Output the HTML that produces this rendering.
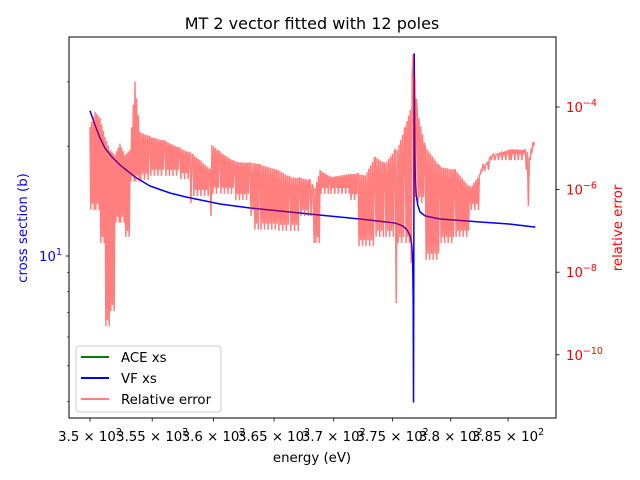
<!DOCTYPE html>
<html><head><meta charset="utf-8"><style>
html,body{margin:0;padding:0;background:#fff;}
svg{display:block;font-family:"DejaVu Sans","Liberation Sans",sans-serif;}
</style></head><body>
<svg id="chart" width="640" height="480" viewBox="0 0 640 480"></svg>
<script>
// ---- data ----
const xsEnergy = [350.00,350.40,350.80,351.20,351.76,352.40,353.61,354.82,356.44,357.75,360.53,363.01,365.49,368.77,372.22,375.22,375.89,376.24,376.51,376.64,376.72,376.76,376.79,376.85,376.90,376.94,377.02,377.15,377.35,377.80,379.09,382.57,385.20,387.40];
const xsValues = [25.0,22.85,21.05,19.76,18.67,17.76,16.46,15.55,14.88,14.51,13.88,13.54,13.28,12.95,12.63,12.31,12.08,11.78,11.34,10.72,9.63,7.58,3.98,35.8,19.52,16.67,14.69,13.80,13.20,12.87,12.63,12.39,12.23,12.0];
const errEnergy = [350.00,350.40,350.80,351.20,351.60,352.00,352.40,352.80,353.21,353.61,354.01,354.82,356.04,357.26,358.07,358.32,358.89,359.71,359.87,360.53,361.76,363.01,363.34,363.84,365.33,366.33,367.17,368.01,368.26,368.43,368.85,369.70,371.39,372.06,372.66,373.51,374.36,375.22,375.39,376.08,376.51,376.76,377.11,377.80,379.09,380.39,381.70,382.57,383.45,385.20,386.52,386.70,386.96,387.32];
const errHigh = [3.3e-5,7.6e-5,5.4e-5,1.9e-5,9.1e-6,6.9e-6,1.3e-5,6.9e-6,9.1e-6,4.1e-4,2.5e-5,1.9e-5,1.5e-5,1.0e-5,7.8e-6,6.9e-6,5.2e-6,3.0e-6,1.2e-5,8.1e-6,4.7e-6,4.4e-6,4.4e-6,4.0e-6,3.0e-6,2.0e-6,1.9e-6,1.7e-6,1.2e-6,1.1e-6,3.0e-6,2.0e-6,2.4e-6,2.4e-6,2.2e-6,6.2e-6,4.2e-6,9.1e-6,9.1e-6,3.3e-5,8.5e-5,1.9e-3,8.5e-5,1.1e-5,3.5e-6,3.0e-6,1.1e-6,2.4e-6,6.2e-6,9.5e-6,9.1e-6,8.1e-6,5.2e-6,1.4e-5];
const errLow = [1.1e-7,4.5e-7,7.1e-8,6.9e-10,1.4e-10,1.6e-9,2.2e-7,1.0e-7,4.1e-8,2.2e-6,2.0e-6,2.4e-6,3.0e-6,2.5e-6,6.6e-7,6.0e-8,9.8e-7,3.2e-7,2.8e-8,1.1e-6,7.8e-7,3.2e-7,6.0e-8,1.5e-7,1.7e-9,1.4e-7,3.5e-8,3.2e-7,7.2e-12,7.1e-8,2.0e-8,1.1e-6,7.8e-7,4.1e-8,6.0e-8,3.5e-8,1.0e-7,2.5e-9,3.2e-10,7.1e-8,2.3e-8,6.5e-9,6.6e-7,2.8e-8,1.1e-8,7.1e-8,1.0e-7,4.5e-7,4.2e-6,7.2e-6,4.2e-6,2.6e-7,5.6e-7,1.4e-5];
const xTickValues = [350,355,360,365,370,375,380,385];
const xTickLabels = ["3.5","3.55","3.6","3.65","3.7","3.75","3.8","3.85"];
const yLeftMinor = [4,5,6,7,8,9,20,30];
const yRightMajor = [-4,-6,-8,-10];

// ---- axes ----
const L=69,R=556,T=37,B=418;
const X = e => 90 + 10100*Math.log10(e/350);
const YL = v => 256 - 365*Math.log10(v/10);
const YR = e => 107 + 41.3*(-4 - Math.log10(e));
const NS="http://www.w3.org/2000/svg";
const svg=document.getElementById('chart');
function mk(tag,attrs,parent){const el=document.createElementNS(NS,tag);for(const k in attrs)el.setAttribute(k,attrs[k]);(parent||svg).appendChild(el);return el;}

let t=mk('text',{x:312,y:29,'text-anchor':'middle','font-size':'16'});t.textContent='MT 2 vector fitted with 12 poles';



const defs=mk('defs',{});const cp=mk('clipPath',{id:'pc'},defs);mk('rect',{x:L,y:T,width:R-L,height:B-T},cp);

// blue series
let pts=xsEnergy.map((e,i)=>X(e).toFixed(2)+','+YL(xsValues[i]).toFixed(2)).join(' ');
let bl=mk('polyline',{points:pts,fill:'none',stroke:'#0000ff','stroke-width':1.5,'stroke-linejoin':'round','clip-path':'url(#pc)'});



// red relative error: dense oscillation between high and low readings
let rp=[];
for(let i=0;i<errEnergy.length-1;i++){
  const x0=X(errEnergy[i]),x1=X(errEnergy[i+1]);
  const h0=YR(errHigh[i]),h1=YR(errHigh[i+1]),l0=YR(errLow[i]),l1=YR(errLow[i+1]);
  const steps=Math.max(1,Math.round((x1-x0)/0.9));
  for(let s=0;s<steps;s++){
    const f=s/steps, x=x0+(x1-x0)*f;
    const hi=h0+(h1-h0)*f;
    const lo=(s===0)?l0:Math.min(l0,l1)+(s%4===1?6:0);
    rp.push(x.toFixed(2)+','+(s%2?lo:hi).toFixed(2));
    if(s===0) rp.push(x.toFixed(2)+','+hi.toFixed(2));
  }
}
const lastI=errEnergy.length-1;
rp.push(X(errEnergy[lastI]).toFixed(2)+','+YR(errHigh[lastI]).toFixed(2));
let rl=mk('polyline',{points:rp.join(' '),fill:'none',stroke:'#ff0000','stroke-opacity':0.5,'stroke-width':1.5,'clip-path':'url(#pc)'});



let fr=mk('rect',{x:L,y:T,width:R-L,height:B-T,fill:'none',stroke:'#000','stroke-width':1});



xTickValues.forEach((v,i)=>{
  const x=X(v);
  mk('line',{x1:x,y1:B,x2:x,y2:B+3.5,stroke:'#000','stroke-width':0.8});
  const tx=mk('text',{x:x,y:441,'text-anchor':'middle','font-size':'13.3'});
  tx.innerHTML=xTickLabels[i]+' × 10<tspan dy="-6" font-size="9.5">2</tspan>';
  
  
});
t=mk('text',{x:312,y:462,'text-anchor':'middle','font-size':'13.3'});t.textContent='energy (eV)';



mk('line',{x1:L,y1:YL(10),x2:L-3.5,y2:YL(10),stroke:'#000','stroke-width':0.8});
t=mk('text',{x:62,y:YL(10)+5,'text-anchor':'end','font-size':'13.3',fill:'#0000ff'});
t.innerHTML='10<tspan dy="-6" font-size="9.5">1</tspan>';


yLeftMinor.forEach(v=>{mk('line',{x1:L,y1:YL(v),x2:L-2,y2:YL(v),stroke:'#000','stroke-width':0.6});});
t=mk('text',{x:0,y:0,'text-anchor':'middle','font-size':'13.3',fill:'#0000ff',transform:'translate(27,228) rotate(-90)'});t.textContent='cross section (b)';



yRightMajor.forEach(p=>{
  const y=YR(Math.pow(10,p));
  mk('line',{x1:R,y1:y,x2:R+3.5,y2:y,stroke:'#000','stroke-width':0.8});
  const tx=mk('text',{x:566,y:y+5,'font-size':'13.3',fill:'#ff0000'});
  tx.innerHTML='10<tspan dy="-6" font-size="9.5">'+String(p).replace('-','−')+'</tspan>';
  
  
});
t=mk('text',{x:0,y:0,'text-anchor':'middle','font-size':'13.3',fill:'#ff0000',transform:'translate(622,228) rotate(-90)'});t.textContent='relative error';



const lg=mk('g',{});


mk('rect',{x:76,y:346,width:145,height:66,rx:3,fill:'#fff','fill-opacity':0.8,stroke:'#ccc','stroke-width':1},lg);
[['ACE xs','#008000',357],['VF xs','#0000ff',378],['Relative error','#ff7f7f',399]].forEach(([lab,c,y])=>{
  const g=mk('g',{},lg);
  
  
  mk('line',{x1:81,y1:y,x2:109,y2:y,stroke:c,'stroke-width':2},g);
  const tx=mk('text',{x:121,y:y+5,'font-size':'13.3'},g);tx.textContent=lab;
});
</script>
</body></html>
